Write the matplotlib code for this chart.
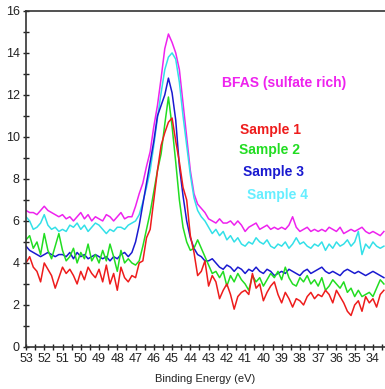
import numpy as np
import matplotlib
matplotlib.use('Agg')
import matplotlib.pyplot as plt
from matplotlib.ticker import MultipleLocator

plt.rcParams['font.family'] = ['Liberation Sans', 'DejaVu Sans']

# binding energy grid, 53.0 down to 33.4 eV in 0.2 eV steps
energy = np.round(53.0 - 0.2 * np.arange(99), 1)

bfas = [6.5, 6.4, 6.4, 6.3, 6.5, 6.7, 6.5, 6.4, 6.3, 6.2,
        6.3, 6.1, 6.2, 6.0, 6.2, 6.4, 6.1, 6.3, 6.0, 6.2,
        6.1, 6.0, 6.3, 6.2, 6.0, 6.2, 6.4, 6.1, 6.2, 6.2,
        6.7, 7.3, 7.8, 8.6, 9.3, 10.5, 11.5, 12.8, 14.2, 14.9,
        14.5, 14.0, 13.2, 11.6, 10.0, 8.4, 7.3, 6.8, 6.6, 6.4,
        6.1, 6.0, 5.9, 6.1, 5.9, 5.9, 6.0, 5.8, 6.0, 5.8,
        5.5, 5.7, 5.8, 5.9, 5.6, 5.7, 5.8, 5.6, 5.7, 5.6,
        5.7, 5.6, 5.8, 6.2, 5.7, 5.5, 5.6, 5.7, 5.5, 5.6,
        5.5, 5.6, 5.5, 5.7, 5.6, 5.5, 5.7, 5.4, 5.5, 5.6,
        5.5, 5.6, 5.7, 5.5, 5.4, 5.5, 5.4, 5.3, 5.5]

sample4 = [6.2, 6.0, 5.6, 5.7, 5.9, 6.3, 5.8, 5.6, 5.7, 5.5,
           5.6, 5.5, 5.8, 5.7, 5.9, 5.6, 5.8, 5.5, 5.7, 5.9,
           5.8, 5.6, 5.4, 5.6, 5.5, 5.7, 5.7, 5.6, 5.8, 5.9,
           6.0, 6.3, 6.9, 7.6, 8.4, 9.6, 10.9, 12.1, 13.2, 13.8,
           14.0, 13.7, 12.6, 11.0, 9.6, 8.2, 7.1, 6.5, 6.2, 6.0,
           5.7, 5.4, 5.6, 5.3, 5.5, 5.1, 5.3, 5.0, 5.2, 4.9,
           4.8, 5.0, 4.9, 5.2, 5.0, 4.9, 5.1, 4.8, 4.7, 4.9,
           4.8, 5.0, 4.7, 4.9, 5.2, 4.9, 5.0, 4.8, 4.7, 4.9,
           4.8, 5.0, 4.6, 4.9, 4.7, 5.0, 4.8, 4.9, 5.1, 4.8,
           5.0, 5.5, 4.4, 4.9, 4.7, 5.0, 4.8, 4.7, 4.8]

sample3 = [4.8, 4.6, 4.5, 4.4, 4.3, 4.4, 4.5, 4.4, 4.3, 4.4,
           4.4, 4.3, 4.5, 4.2, 4.5, 4.3, 4.4, 4.2, 4.3, 4.4,
           4.3, 4.2, 4.3, 4.1, 4.3, 4.2, 4.4, 4.5, 4.3, 4.5,
           5.0, 5.8, 6.8, 7.8, 8.8, 9.8, 11.0, 11.5, 12.0, 12.8,
           12.1, 10.8, 8.6, 7.2, 6.0, 5.2, 4.7, 4.4, 4.3, 4.1,
           4.1, 4.2, 4.0, 3.8, 3.7, 3.9, 3.8, 3.6, 3.8, 3.7,
           3.5, 3.7, 3.6, 3.8, 3.6, 3.5, 3.7, 3.6, 3.4, 3.5,
           3.6, 3.5, 3.7, 3.6, 3.5, 3.4, 3.6, 3.7, 3.5, 3.6,
           3.7, 3.8, 3.6, 3.5, 3.6, 3.5, 3.4, 3.6, 3.7, 3.6,
           3.5, 3.6, 3.5, 3.4, 3.5, 3.6, 3.5, 3.4, 3.3]

sample2 = [5.1, 5.3, 4.7, 5.0, 4.4, 5.4, 4.6, 4.2, 4.8, 5.4,
           4.6, 4.1, 4.3, 4.7, 4.0, 4.5, 4.2, 4.9, 4.1, 4.4,
           4.0, 4.6, 4.1, 4.9, 4.3, 3.6, 4.6, 4.0, 4.2, 4.0,
           3.9, 4.1, 4.8, 5.6, 6.4, 7.4, 8.4, 9.2, 10.6, 11.9,
           10.5, 8.8, 7.0, 5.7, 5.0, 4.6, 4.7, 5.1, 4.7, 4.3,
           3.9, 3.5, 3.6, 3.3, 3.6, 2.9, 3.4, 3.1, 3.5, 3.2,
           3.0, 2.7, 3.4, 3.1, 3.3, 2.9, 3.2, 3.5, 3.3, 3.6,
           3.2, 3.8, 3.3, 3.0, 2.9, 3.3, 3.1, 3.4, 3.0, 3.2,
           2.9, 3.3, 2.7, 2.9, 3.2, 3.0, 2.8, 3.1, 2.6, 2.8,
           2.4, 2.7, 2.4, 2.5, 2.6, 2.4, 2.8, 3.2, 3.0]

sample1 = [4.0, 4.3, 3.8, 3.6, 3.1, 4.0, 3.7, 3.4, 2.8, 3.3,
           3.8, 3.5, 3.7, 3.4, 3.0, 3.6, 3.2, 3.8, 3.5, 3.3,
           3.7, 3.1, 3.9, 3.0, 3.5, 2.7, 3.8, 3.3, 3.1, 3.4,
           3.3, 4.0, 4.1, 5.2, 5.6, 7.0, 8.4, 9.6, 10.2, 10.7,
           10.9, 9.8, 8.8, 7.6, 7.0, 5.3, 4.5, 3.4, 3.6, 4.1,
           2.9, 3.4, 3.1, 2.3, 2.7, 3.0, 2.5, 1.8, 2.4, 2.6,
           2.7, 2.5, 3.5, 2.8, 3.0, 2.2, 2.6, 2.9, 3.1, 2.5,
           2.1, 2.6, 2.3, 1.9, 2.3, 2.2, 2.0, 2.4, 2.6, 2.3,
           2.5, 2.4, 2.7, 2.5, 2.1, 2.7, 2.4, 2.1, 1.7, 1.5,
           2.0, 2.2, 1.7, 2.4, 2.1, 2.3, 1.9, 2.5, 2.7]

series = [bfas, sample4, sample3, sample2, sample1]
colors = ['#ee22ee', '#33e0e8', '#1a1ad0', '#22dd22', '#ee1c1c']

fig = plt.figure(figsize=(3.85, 3.89), dpi=100)
ax = fig.add_axes([0.0675, 0.108, 0.9325, 0.864])
for y, c in zip(series, colors):
    ax.plot(energy, y, color=c, lw=1.1)

ax.text(42.27, 12.57, 'BFAS (sulfate rich)', color='#ee22ee', fontsize=10,
        fontweight='bold', va='center')
ax.text(41.28, 10.33, 'Sample 1', color='#ee1c1c', fontsize=10, fontweight='bold', va='center')
ax.text(41.33, 9.38, 'Sample 2', color='#22dd22', fontsize=10, fontweight='bold', va='center')
ax.text(41.12, 8.33, 'Sample 3', color='#1a1ad0', fontsize=10, fontweight='bold', va='center')
ax.text(40.9, 7.24, 'Sample 4', color='#66eeff', fontsize=10, fontweight='bold', va='center')

ax.set_xlim(53, 33.34)
ax.set_ylim(0, 16)
ax.xaxis.set_major_locator(MultipleLocator(1))
ax.xaxis.set_minor_locator(MultipleLocator(0.5))
ax.yaxis.set_major_locator(MultipleLocator(2))
ax.yaxis.set_minor_locator(MultipleLocator(1))
ax.tick_params(which='major', direction='inout', length=5, width=1, labelsize=9,
               colors='#222222', pad=2)
ax.tick_params(which='minor', direction='inout', length=4, width=1, colors='#222222')
ax.spines['right'].set_visible(False)
for s in ['left', 'bottom', 'top']:
    ax.spines[s].set_color('#333333')
    ax.spines[s].set_linewidth(1.2)
ax.set_xlabel('Binding Energy (eV)', fontsize=8, color='#222222', labelpad=6)

plt.savefig('out.png', dpi=100)
